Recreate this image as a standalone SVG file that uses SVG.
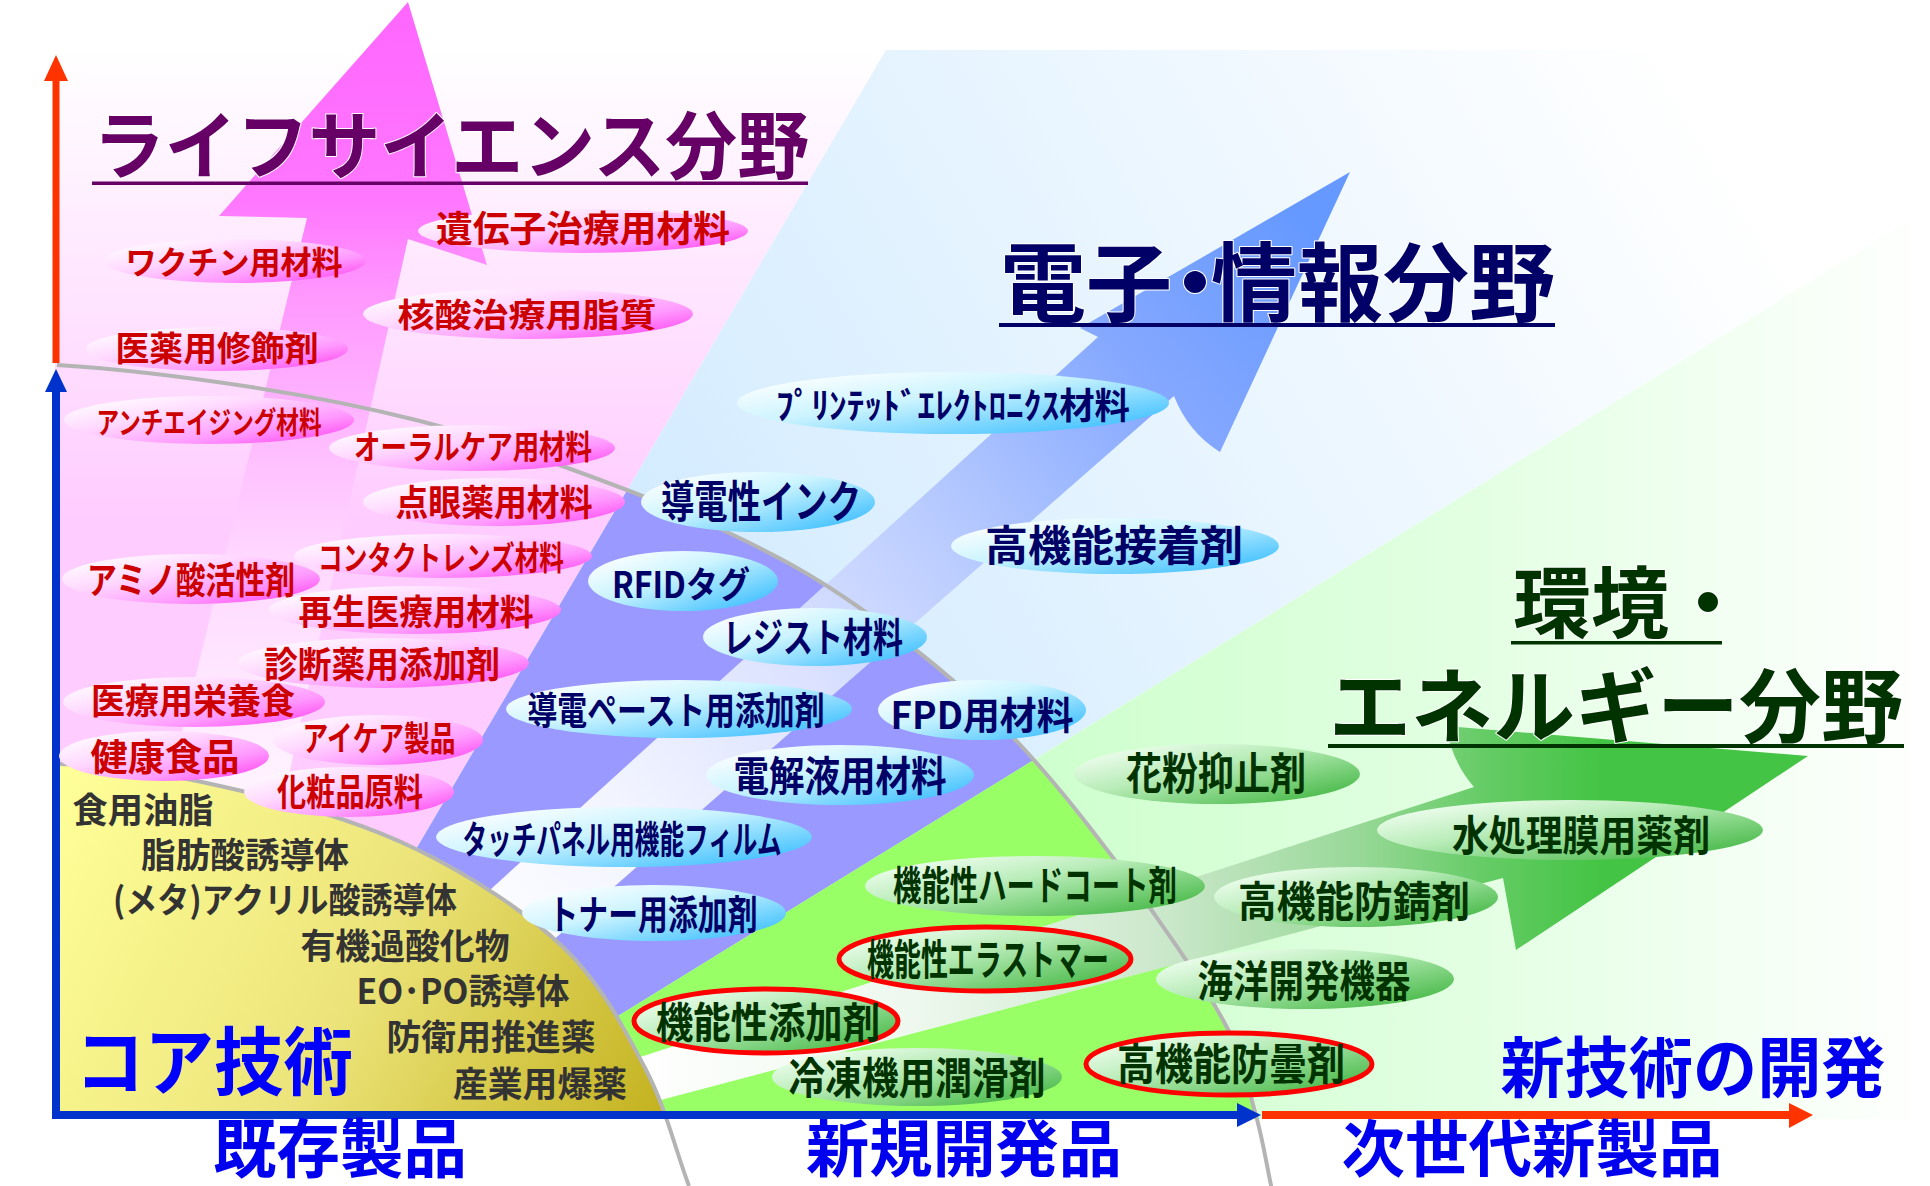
<svg xmlns="http://www.w3.org/2000/svg" width="1930" height="1186" viewBox="0 0 1930 1186">
<defs>
<style>
.t{font-family:"Noto Sans CJK JP","Noto Sans CJK SC",sans-serif;font-weight:700;text-anchor:middle}
.ts{font-family:"Noto Sans CJK JP","Noto Sans CJK SC",sans-serif;font-weight:700;text-anchor:start}
.pt{fill:#cc0000}
.bt{fill:#000066}
.gt{fill:#003300}
.ct{fill:#333333;font-size:35px}
.lab{fill:#0000ee}
.red{stroke:#ff0000;stroke-width:5}
.gray{fill:none;stroke:#b4b4b4;stroke-width:4}
.ttl{stroke:#ffffff;stroke-width:2;paint-order:stroke;stroke-linejoin:round}
.pe{fill:url(#pe)}
.be{fill:url(#be)}
.ge{fill:url(#ge)}
</style>
<linearGradient id="pe" x1="0.05" y1="0.1" x2="0.95" y2="0.95"><stop offset="0" stop-color="#ffffff"/><stop offset="0.35" stop-color="#ffd8ff"/><stop offset="0.7" stop-color="#ff99ff"/><stop offset="1" stop-color="#ff44ee"/></linearGradient>
<linearGradient id="be" x1="0.05" y1="0.1" x2="0.95" y2="0.95"><stop offset="0" stop-color="#ffffff"/><stop offset="0.4" stop-color="#ccf4ff"/><stop offset="1" stop-color="#33bbff"/></linearGradient>
<linearGradient id="ge" x1="0.05" y1="0.1" x2="0.95" y2="0.95"><stop offset="0" stop-color="#f4fff4"/><stop offset="0.4" stop-color="#b8ecb8"/><stop offset="1" stop-color="#3cb43c"/></linearGradient>
<linearGradient id="pinkBand" gradientUnits="userSpaceOnUse" x1="0" y1="50" x2="0" y2="520"><stop offset="0" stop-color="#ffffff"/><stop offset="0.3" stop-color="#fff0ff"/><stop offset="1" stop-color="#ffccff"/></linearGradient>
<linearGradient id="blueBand" gradientUnits="userSpaceOnUse" x1="700" y1="700" x2="1700" y2="100"><stop offset="0" stop-color="#d2ebff"/><stop offset="1" stop-color="#ffffff"/></linearGradient>
<linearGradient id="greenBand" gradientUnits="userSpaceOnUse" x1="1000" y1="0" x2="1930" y2="0"><stop offset="0" stop-color="#ccffcc"/><stop offset="0.5" stop-color="#e2ffe2"/><stop offset="1" stop-color="#ffffff"/></linearGradient>
<linearGradient id="pinkArrow" gradientUnits="userSpaceOnUse" x1="0" y1="0" x2="0" y2="1000"><stop offset="0" stop-color="#ff66ff"/><stop offset="0.2" stop-color="#ff77ff"/><stop offset="0.3" stop-color="#ff99ff"/><stop offset="0.46" stop-color="#ffc0ff"/><stop offset="0.56" stop-color="#ffd8ff"/><stop offset="0.75" stop-color="#fff0ff"/><stop offset="1" stop-color="#ffffff"/></linearGradient>
<linearGradient id="blueArrow" gradientUnits="userSpaceOnUse" x1="450" y1="950" x2="1300" y2="220"><stop offset="0" stop-color="#ffffff"/><stop offset="0.2" stop-color="#f2f4ff"/><stop offset="0.4" stop-color="#dce2ff"/><stop offset="0.6" stop-color="#b4c8ff"/><stop offset="0.8" stop-color="#85a8ff"/><stop offset="1" stop-color="#6699ff"/></linearGradient>
<linearGradient id="greenArrow" gradientUnits="userSpaceOnUse" x1="620" y1="0" x2="1600" y2="0"><stop offset="0" stop-color="#ffffff"/><stop offset="0.3" stop-color="#eef8ee"/><stop offset="0.55" stop-color="#cce8cc"/><stop offset="0.75" stop-color="#99d899"/><stop offset="0.88" stop-color="#66cc66"/><stop offset="1" stop-color="#44c444"/></linearGradient>
<linearGradient id="core" gradientUnits="userSpaceOnUse" x1="55" y1="780" x2="690" y2="1115"><stop offset="0" stop-color="#ffff99"/><stop offset="0.5" stop-color="#ece47a"/><stop offset="1" stop-color="#c0ae18"/></linearGradient>
<clipPath id="inOuter"><path d="M57,365 C122,369 190.5,377.7 251,387 C311.5,396.3 367.7,407.7 420,421 C472.3,434.3 513.8,448.5 565,467 C616.2,485.5 678.3,508.8 727,532 C775.7,555.2 811.5,574 857,606 C902.5,638 956.2,680.5 1000,724 C1043.8,767.5 1082.8,817.7 1120,867 C1157.2,916.3 1200.5,979.2 1223,1020 C1245.5,1060.8 1246.8,1083.7 1255,1112 C1263.2,1140.3 1266.3,1164 1272,1190 L0,1190 L0,365 Z"/></clipPath>
</defs>

<rect width="1930" height="1186" fill="#ffffff"/>

<g id="bands">
<polygon points="55,50 886,50 218,1186 55,1186" fill="url(#pinkBand)"/>
<polygon points="886,50 1930,50 1930,208 342,1186 218,1186" fill="url(#blueBand)"/>
<polygon points="1930,208 1930,1186 342,1186" fill="url(#greenBand)"/>
<g clip-path="url(#inOuter)">
<polygon points="886,50 1930,50 1930,208 342,1186 218,1186" fill="#9999ff"/>
<polygon points="1930,208 1930,1186 342,1186" fill="#99ff66"/>
</g>
</g>

<g id="field-arrows">
<path d="M408,2 L487,265 L408,239 L239,1000 L117,1000 L307,218 L219,216 Z" fill="url(#pinkArrow)"/>
<path d="M1350,172 L1220,452 Q1188,432 1174,396 L485,1000 L369,1000 L1098,337 L1080,328 Z" fill="url(#blueArrow)"/>
<path d="M600,1070 L1474,787 Q1452,762 1446,726 L1808,756 L1516,950 L1503,878 L600,1116 Z" fill="url(#greenArrow)"/>
</g>

<g id="core-area">
<path d="M55,764 L57,764 C119,764 182.2,776.8 242,791 C301.8,805.2 362.5,823 416,849 C469.5,875 524.8,910.5 563,947 C601.2,983.5 624,1028.2 645,1068 C666,1107.8 674.3,1146.7 689,1186 L55,1186 Z" fill="url(#core)"/>
</g>

<rect x="0" y="1119" width="1930" height="67" fill="#ffffff"/>
<rect x="0" y="0" width="52" height="1186" fill="#ffffff"/>

<g id="boundaries">
<path class="gray" d="M57,365 C122,369 190.5,377.7 251,387 C311.5,396.3 367.7,407.7 420,421 C472.3,434.3 513.8,448.5 565,467 C616.2,485.5 678.3,508.8 727,532 C775.7,555.2 811.5,574 857,606 C902.5,638 956.2,680.5 1000,724 C1043.8,767.5 1082.8,817.7 1120,867 C1157.2,916.3 1200.5,979.2 1223,1020 C1245.5,1060.8 1246.8,1083.7 1255,1112 C1263.2,1140.3 1266.3,1164 1272,1190"/>
<path class="gray" d="M57,764 C119,764 182.2,776.8 242,791 C301.8,805.2 362.5,823 416,849 C469.5,875 524.8,910.5 563,947 C601.2,983.5 624,1028.2 645,1068 C666,1107.8 674.3,1146.7 689,1186"/>
</g>

<g id="axes">
<rect x="52.5" y="80" width="7" height="283" fill="#ff3300"/>
<polygon points="56,55 68,81 44,81" fill="#ff3300"/>
<rect x="52" y="390" width="8" height="729" fill="#0033cc"/>
<polygon points="56,369 67,392 45,392" fill="#0033cc"/>
<rect x="52" y="1111" width="1188" height="8" fill="#0033cc"/>
<polygon points="1261,1115 1237,1103 1237,1127" fill="#0033cc"/>
<rect x="1262" y="1111" width="530" height="8" fill="#ff3300"/>
<polygon points="1813,1115 1789,1103 1789,1128" fill="#ff3300"/>
</g>

<g id="titles">
<text class="t ttl" x="451" y="173" font-size="74" fill="#660066" textLength="716" lengthAdjust="spacingAndGlyphs">ライフサイエンス分野</text>
<rect x="92" y="181.5" width="716" height="3.5" fill="#660066"/>
<text class="ts ttl" x="1000" y="315" font-size="86" fill="#000066" dx="0 0 -20 -27">電子・情報分野</text>
<rect x="999" y="323" width="556" height="4" fill="#000066"/>
<text class="ts ttl" x="1513" y="632" font-size="78" fill="#003300" textLength="234" lengthAdjust="spacingAndGlyphs">環境・</text>
<rect x="1511" y="641" width="211" height="3.5" fill="#003300"/>
<text class="ts ttl" x="1329" y="736" font-size="81" fill="#003300" textLength="574" lengthAdjust="spacingAndGlyphs">エネルギー分野</text>
<rect x="1328" y="744" width="576" height="4" fill="#003300"/>
</g>

<g id="life-science-nodes">
<g id="n-wakuchin"><ellipse class="pe" cx="235" cy="261" rx="131" ry="22"/><text class="t pt" x="234" y="274" font-size="32" textLength="217" lengthAdjust="spacingAndGlyphs">ワクチン用材料</text></g>
<g id="n-idenshi"><ellipse class="pe" cx="583" cy="231" rx="165" ry="22"/><text class="t pt" x="583" y="242" font-size="36" textLength="294" lengthAdjust="spacingAndGlyphs">遺伝子治療用材料</text></g>
<g id="n-kakusan"><ellipse class="pe" cx="528" cy="314" rx="165" ry="25"/><text class="t pt" x="527" y="327" font-size="33" textLength="259" lengthAdjust="spacingAndGlyphs">核酸治療用脂質</text></g>
<g id="n-iyaku"><ellipse class="pe" cx="217" cy="349" rx="131" ry="22"/><text class="t pt" x="217" y="361" font-size="34" textLength="203" lengthAdjust="spacingAndGlyphs">医薬用修飾剤</text></g>
<g id="n-anti"><ellipse class="pe" cx="209" cy="420" rx="145" ry="24"/><text class="t pt" x="209" y="433" font-size="30" textLength="225" lengthAdjust="spacingAndGlyphs">アンチエイジング材料</text></g>
<g id="n-oral"><ellipse class="pe" cx="472" cy="448" rx="143" ry="23"/><text class="t pt" x="473" y="459" font-size="33" textLength="238" lengthAdjust="spacingAndGlyphs">オーラルケア用材料</text></g>
<g id="n-tengan"><ellipse class="pe" cx="494" cy="502" rx="131" ry="24"/><text class="t pt" x="494" y="516" font-size="36" textLength="197" lengthAdjust="spacingAndGlyphs">点眼薬用材料</text></g>
<g id="n-contact"><ellipse class="pe" cx="443" cy="556" rx="149" ry="22"/><text class="t pt" x="441" y="570" font-size="33" textLength="246" lengthAdjust="spacingAndGlyphs">コンタクトレンズ材料</text></g>
<g id="n-amino"><ellipse class="pe" cx="191" cy="579" rx="129" ry="25"/><text class="t pt" x="191" y="594" font-size="37" textLength="208" lengthAdjust="spacingAndGlyphs">アミノ酸活性剤</text></g>
<g id="n-saisei"><ellipse class="pe" cx="415" cy="610" rx="146" ry="24"/><text class="t pt" x="416" y="625" font-size="35" textLength="235" lengthAdjust="spacingAndGlyphs">再生医療用材料</text></g>
<g id="n-shindan"><ellipse class="pe" cx="383" cy="663" rx="146" ry="25"/><text class="t pt" x="382" y="678" font-size="36" textLength="236" lengthAdjust="spacingAndGlyphs">診断薬用添加剤</text></g>
<g id="n-eiyou"><ellipse class="pe" cx="194" cy="702" rx="131" ry="25"/><text class="t pt" x="193" y="714" font-size="35" textLength="204" lengthAdjust="spacingAndGlyphs">医療用栄養食</text></g>
<g id="n-eyecare"><ellipse class="pe" cx="378" cy="740" rx="105" ry="25"/><text class="t pt" x="379" y="751" font-size="34" textLength="153" lengthAdjust="spacingAndGlyphs">アイケア製品</text></g>
<g id="n-kenkou"><ellipse class="pe" cx="164" cy="756" rx="105" ry="25"/><text class="t pt" x="165" y="771" font-size="37" textLength="149" lengthAdjust="spacingAndGlyphs">健康食品</text></g>
<g id="n-keshou"><ellipse class="pe" cx="349" cy="792" rx="105" ry="25"/><text class="t pt" x="350" y="806" font-size="37" textLength="146" lengthAdjust="spacingAndGlyphs">化粧品原料</text></g>
</g>

<g id="electronics-nodes">
<g id="n-printed"><ellipse class="be" cx="953" cy="403" rx="216" ry="31"/><text class="t bt" x="953" y="419" font-size="36" textLength="354" lengthAdjust="spacingAndGlyphs">ﾌﾟﾘﾝﾃｯﾄﾞｴﾚｸﾄﾛﾆｸｽ材料</text></g>
<g id="n-ink"><ellipse class="be" cx="758" cy="502" rx="117" ry="30"/><text class="t bt" x="761" y="518" font-size="44" textLength="200" lengthAdjust="spacingAndGlyphs">導電性インク</text></g>
<g id="n-setchaku"><ellipse class="be" cx="1115" cy="546" rx="164" ry="28"/><text class="t bt" x="1114" y="561" font-size="42" textLength="258" lengthAdjust="spacingAndGlyphs">高機能接着剤</text></g>
<g id="n-rfid"><ellipse class="be" cx="683" cy="581" rx="95" ry="30"/><text class="t bt" x="681" y="598" font-size="36" textLength="138" lengthAdjust="spacingAndGlyphs">RFIDタグ</text></g>
<g id="n-resist"><ellipse class="be" cx="815" cy="637" rx="112" ry="29"/><text class="t bt" x="813" y="652" font-size="40" textLength="180" lengthAdjust="spacingAndGlyphs">レジスト材料</text></g>
<g id="n-paste"><ellipse class="be" cx="679" cy="709" rx="173" ry="29"/><text class="t bt" x="676" y="724" font-size="38" textLength="297" lengthAdjust="spacingAndGlyphs">導電ペースト用添加剤</text></g>
<g id="n-fpd"><ellipse class="be" cx="982" cy="710" rx="104" ry="30"/><text class="t bt" x="982" y="729" font-size="38" textLength="183" lengthAdjust="spacingAndGlyphs">FPD用材料</text></g>
<g id="n-denkai"><ellipse class="be" cx="840" cy="775" rx="134" ry="30"/><text class="t bt" x="840" y="791" font-size="41" textLength="213" lengthAdjust="spacingAndGlyphs">電解液用材料</text></g>
<g id="n-touch"><ellipse class="be" cx="624" cy="837" rx="188" ry="30"/><text class="t bt" x="622" y="853" font-size="38" textLength="319" lengthAdjust="spacingAndGlyphs">タッチパネル用機能フィルム</text></g>
<g id="n-toner"><ellipse class="be" cx="654" cy="913" rx="132" ry="28"/><text class="t bt" x="653" y="929" font-size="40" textLength="209" lengthAdjust="spacingAndGlyphs">トナー用添加剤</text></g>
</g>

<g id="environment-nodes">
<g id="n-kafun"><ellipse class="ge" cx="1217" cy="774" rx="143" ry="30"/><text class="t gt" x="1216" y="790" font-size="44" textLength="180" lengthAdjust="spacingAndGlyphs">花粉抑止剤</text></g>
<g id="n-mizu"><ellipse class="ge" cx="1570" cy="830" rx="193" ry="30"/><text class="t gt" x="1581" y="851" font-size="42" textLength="258" lengthAdjust="spacingAndGlyphs">水処理膜用薬剤</text></g>
<g id="n-hardcoat"><ellipse class="ge" cx="1035" cy="886" rx="170" ry="30"/><text class="t gt" x="1035" y="900" font-size="40" textLength="284" lengthAdjust="spacingAndGlyphs">機能性ハードコート剤</text></g>
<g id="n-bousei"><ellipse class="ge" cx="1356" cy="897" rx="142" ry="30"/><text class="t gt" x="1354" y="917" font-size="42" textLength="232" lengthAdjust="spacingAndGlyphs">高機能防錆剤</text></g>
<g id="n-elastomer"><ellipse class="ge red" cx="985" cy="959" rx="146" ry="32"/><text class="t gt" x="988" y="975" font-size="42" textLength="242" lengthAdjust="spacingAndGlyphs">機能性エラストマー</text></g>
<g id="n-kaiyou"><ellipse class="ge" cx="1305" cy="979" rx="149" ry="30"/><text class="t gt" x="1304" y="997" font-size="43" textLength="213" lengthAdjust="spacingAndGlyphs">海洋開発機器</text></g>
<g id="n-tenkazai"><ellipse class="ge red" cx="766" cy="1021" rx="132" ry="32"/><text class="t gt" x="768" y="1038" font-size="42" textLength="224" lengthAdjust="spacingAndGlyphs">機能性添加剤</text></g>
<g id="n-reitou"><ellipse class="ge" cx="917" cy="1077" rx="145" ry="29"/><text class="t gt" x="917" y="1094" font-size="43" textLength="257" lengthAdjust="spacingAndGlyphs">冷凍機用潤滑剤</text></g>
<g id="n-boudon"><ellipse class="ge red" cx="1229" cy="1064" rx="143" ry="31"/><text class="t gt" x="1231" y="1080" font-size="43" textLength="228" lengthAdjust="spacingAndGlyphs">高機能防曇剤</text></g>
</g>

<g id="core-texts">
<text class="t ct" x="143" y="823" textLength="141" lengthAdjust="spacingAndGlyphs">食用油脂</text>
<text class="t ct" x="245" y="868" textLength="208" lengthAdjust="spacingAndGlyphs">脂肪酸誘導体</text>
<text class="t ct" x="285" y="913" textLength="344" lengthAdjust="spacingAndGlyphs">(メタ)アクリル酸誘導体</text>
<text class="t ct" x="405" y="959" textLength="209" lengthAdjust="spacingAndGlyphs">有機過酸化物</text>
<text class="t ct" x="463" y="1004" textLength="213" lengthAdjust="spacingAndGlyphs">EO･PO誘導体</text>
<text class="t ct" x="491" y="1050" textLength="209" lengthAdjust="spacingAndGlyphs">防衛用推進薬</text>
<text class="t ct" x="540" y="1097" textLength="174" lengthAdjust="spacingAndGlyphs">産業用爆薬</text>
<text class="t" x="214" y="1089" font-size="74" fill="#0000ff" textLength="278" lengthAdjust="spacingAndGlyphs">コア技術</text>
</g>

<g id="axis-labels">
<text class="t lab" x="340" y="1172" font-size="64" textLength="254" lengthAdjust="spacingAndGlyphs">既存製品</text>
<text class="t lab" x="964" y="1172" font-size="62" textLength="316" lengthAdjust="spacingAndGlyphs">新規開発品</text>
<text class="t lab" x="1532" y="1172" font-size="62" textLength="381" lengthAdjust="spacingAndGlyphs">次世代新製品</text>
<text class="t lab" x="1693" y="1092" font-size="66" textLength="385" lengthAdjust="spacingAndGlyphs">新技術の開発</text>
</g>
</svg>
